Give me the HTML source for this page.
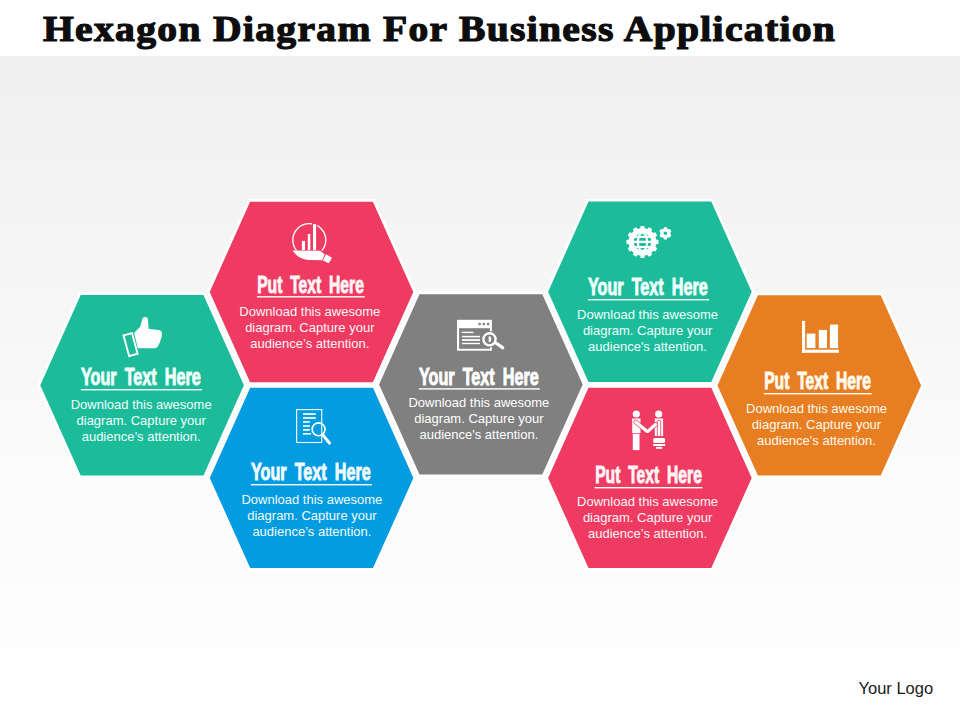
<!DOCTYPE html>
<html><head><meta charset="utf-8">
<style>
*{margin:0;padding:0;box-sizing:border-box}
html,body{width:960px;height:720px;overflow:hidden}
body{position:relative;background:#fff;font-family:"Liberation Sans",sans-serif}
#bg{position:absolute;left:0;top:56px;width:960px;height:592px;background:linear-gradient(180deg,#f0f0f0 0%,#f6f6f6 40%,#fbfbfb 70%,#fdfdfd 100%)}
#title{position:absolute;left:43.2px;top:11.15px;white-space:nowrap;font-family:"Liberation Serif",serif;font-weight:bold;font-size:36.0px;line-height:36.0px;color:#0d0d0d;letter-spacing:1.192px;-webkit-text-stroke:1.2px #0d0d0d;transform:scaleX(1.100);transform-origin:0 0}
svg{position:absolute;left:0;top:0}
.hd{position:absolute;width:300px;text-align:center;color:#fff;font-weight:bold;font-size:24.80px;line-height:24.80px;white-space:nowrap}
.hd span{display:inline-block;transform-origin:50% 0;word-spacing:5.5px;-webkit-text-stroke:1.0px #fff}
.bd{position:absolute;width:200px;text-align:center;color:#fff;font-size:13.0px;line-height:16.0px;white-space:nowrap}
#logo{position:absolute;left:858.5px;top:679.78px;font-size:16.5px;line-height:16.5px;color:#1a1a1a;white-space:nowrap}
</style></head><body>
<div id="bg"></div>
<div id="title">Hexagon Diagram For Business Application</div>
<svg width="960" height="720" viewBox="0 0 960 720">
<g fill="#fff" stroke="#fff" stroke-width="5.4" stroke-linejoin="miter">
<polygon points="40.30,385.30 80.70,295.10 203.50,295.10 243.90,385.30 203.50,475.50 80.70,475.50"/>
<polygon points="209.70,292.00 250.10,201.80 372.90,201.80 413.30,292.00 372.90,382.20 250.10,382.20"/>
<polygon points="209.80,477.90 250.20,387.70 373.00,387.70 413.40,477.90 373.00,568.10 250.20,568.10"/>
<polygon points="379.10,384.40 419.50,294.20 542.30,294.20 582.70,384.40 542.30,474.60 419.50,474.60"/>
<polygon points="548.10,291.80 588.50,201.60 711.30,201.60 751.70,291.80 711.30,382.00 588.50,382.00"/>
<polygon points="548.10,477.90 588.50,387.70 711.30,387.70 751.70,477.90 711.30,568.10 588.50,568.10"/>
<polygon points="717.50,385.40 757.90,295.20 880.70,295.20 921.10,385.40 880.70,475.60 757.90,475.60"/>
</g>
<polygon fill="#1cbc9b" points="40.30,385.30 80.70,295.10 203.50,295.10 243.90,385.30 203.50,475.50 80.70,475.50"/>
<polygon fill="#ef3b61" points="209.70,292.00 250.10,201.80 372.90,201.80 413.30,292.00 372.90,382.20 250.10,382.20"/>
<polygon fill="#039ce0" points="209.80,477.90 250.20,387.70 373.00,387.70 413.40,477.90 373.00,568.10 250.20,568.10"/>
<polygon fill="#808080" points="379.10,384.40 419.50,294.20 542.30,294.20 582.70,384.40 542.30,474.60 419.50,474.60"/>
<polygon fill="#1cbc9b" points="548.10,291.80 588.50,201.60 711.30,201.60 751.70,291.80 711.30,382.00 588.50,382.00"/>
<polygon fill="#ef3b61" points="548.10,477.90 588.50,387.70 711.30,387.70 751.70,477.90 711.30,568.10 588.50,568.10"/>
<polygon fill="#e87e22" points="717.50,385.40 757.90,295.20 880.70,295.20 921.10,385.40 880.70,475.60 757.90,475.60"/>
<g fill="#fff">
<rect x="80.90" y="389.00" width="121.00" height="1.40"/>
<rect x="256.90" y="296.10" width="107.80" height="1.40"/>
<rect x="250.85" y="484.00" width="121.00" height="1.40"/>
<rect x="418.90" y="388.20" width="121.00" height="1.40"/>
<rect x="588.10" y="299.00" width="121.00" height="1.40"/>
<rect x="594.60" y="487.00" width="107.80" height="1.40"/>
<rect x="763.80" y="393.00" width="107.80" height="1.40"/>
</g>
<g id="icons">
<g fill="none" stroke="#fff" stroke-width="1.9"><rect x="-4.4" y="-10.7" width="8.8" height="21.4" transform="translate(130.55,344.6) rotate(-15.2)"/></g>
<path fill="#fff" d="M134.1,333.1 L140.2,326.8 L141.8,321.0 Q142.3,317.0 145.0,317.0 Q147.9,317.0 148.0,319.8 L148.6,328.7 L159.6,330.3 Q162.0,330.8 161.9,333.4 L161.7,336.5 L159.8,342.6 L157.6,346.8 Q156.6,348.2 155.0,348.2 L137.8,348.2 Z"/>
<circle cx="309.3" cy="240.1" r="16.5" fill="none" stroke="#fff" stroke-width="1.3"/>
<rect x="312.0" y="222" width="5.1" height="6" fill="#ef3b61"/>
<g fill="#fff"><rect x="301.9" y="240.9" width="3.1" height="9.7"/><rect x="307.8" y="234.0" width="2.5" height="16.6"/><rect x="313.0" y="224.1" width="3.1" height="26.5"/></g>
<path fill="#ef3b61" d="M290.5,250.2 L321,250.2 L327,254 L324,262 L309,261.5 Q297,259.5 290.5,249.6 Z"/>
<path fill="#fff" d="M292.6,250.6 L319.9,250.8 L324.6,254.2 L322.3,260.2 L309.0,259.9 C301,259.6 296,255.5 292.6,250.6 Z"/>
<path fill="#fff" d="M325.9,254.3 L332.0,257.7 L328.8,263.2 L322.9,260.6 Z"/>
<rect x="296.65" y="409.6" width="25.1" height="32.9" fill="none" stroke="#fff" stroke-width="1.1"/>
<g fill="#fff"><rect x="303" y="413.2" width="12.8" height="1.7"/><rect x="303" y="417.1" width="12.8" height="1.7"/><rect x="303" y="421.1" width="6.9" height="1.6"/><rect x="303" y="425.2" width="6.9" height="1.6"/><rect x="303" y="429.0" width="6.9" height="1.7"/><rect x="303" y="433.0" width="8.0" height="1.6"/></g>
<circle cx="318.6" cy="429.3" r="6.45" fill="none" stroke="#fff" stroke-width="1.7"/>
<line x1="323.4" y1="435.6" x2="329.6" y2="443.2" stroke="#fff" stroke-width="3" stroke-linecap="round"/>
<rect x="457.0" y="319.8" width="34.9" height="30.9" fill="#fff"/>
<rect x="459.1" y="328.2" width="30.9" height="20.6" fill="#808080"/>
<g fill="#808080"><circle cx="479.7" cy="324.1" r="1.35"/><circle cx="483.8" cy="324.1" r="1.35"/><circle cx="488.1" cy="324.1" r="1.35"/></g>
<g fill="#fff"><rect x="461.6" y="331.7" width="11.9" height="1.4"/><rect x="461.9" y="335.8" width="18.1" height="1.6"/><rect x="461.9" y="339.1" width="18.1" height="1.8"/><rect x="461.9" y="342.8" width="18.1" height="1.4"/></g>
<circle cx="489.5" cy="339.3" r="8.3" fill="#808080"/>
<line x1="496.6" y1="343.5" x2="502.6" y2="347.7" stroke="#fff" stroke-width="3.3" stroke-linecap="round"/>
<circle cx="489.5" cy="339.3" r="6.1" fill="none" stroke="#fff" stroke-width="2.4"/>
<path fill="#fff" d="M488.7,336.3 L490.3,336.3 Q492.2,339.1 490.3,342.0 L488.7,342.0 Z"/>
<path fill="#fff" d="M640.21,228.19 L640.68,225.90 L644.32,225.90 L644.79,228.19 L647.37,228.88 L648.92,227.14 L652.08,228.96 L651.34,231.17 L653.23,233.06 L655.44,232.32 L657.26,235.48 L655.52,237.03 L656.21,239.61 L658.50,240.08 L658.50,243.72 L656.21,244.19 L655.52,246.77 L657.26,248.32 L655.44,251.48 L653.23,250.74 L651.34,252.63 L652.08,254.84 L648.92,256.66 L647.37,254.92 L644.79,255.61 L644.32,257.90 L640.68,257.90 L640.21,255.61 L637.63,254.92 L636.08,256.66 L632.92,254.84 L633.66,252.63 L631.77,250.74 L629.56,251.48 L627.74,248.32 L629.48,246.77 L628.79,244.19 L626.50,243.72 L626.50,240.08 L628.79,239.61 L629.48,237.03 L627.74,235.48 L629.56,232.32 L631.77,233.06 L633.66,231.17 L632.92,228.96 L636.08,227.14 L637.63,228.88 Z"/>
<circle cx="642.5" cy="241.9" r="8.8" fill="#1cbc9b"/>
<g stroke="#fff" fill="none" stroke-width="2.1"><ellipse cx="642.5" cy="241.9" rx="4.6" ry="9.2"/><line x1="633" y1="236.8" x2="652" y2="236.8"/><line x1="633" y1="241.9" x2="652" y2="241.9" stroke-width="2.4"/><line x1="633" y1="247.0" x2="652" y2="247.0"/></g>
<path fill="#fff" d="M663.66,228.51 L663.98,227.16 L666.82,227.16 L667.14,228.51 L668.68,229.39 L670.01,229.00 L671.42,231.46 L670.42,232.41 L670.42,234.19 L671.42,235.14 L670.01,237.60 L668.68,237.21 L667.14,238.09 L666.82,239.44 L663.98,239.44 L663.66,238.09 L662.12,237.21 L660.79,237.60 L659.38,235.14 L660.38,234.19 L660.38,232.41 L659.38,231.46 L660.79,229.00 L662.12,229.39 Z"/>
<circle cx="665.4" cy="233.3" r="1.8" fill="#1cbc9b"/>
<g fill="#fff"><circle cx="636.3" cy="414.0" r="3.6"/><circle cx="658.7" cy="414.0" r="3.6"/><rect x="632.2" y="418.5" width="8.3" height="14.7"/><rect x="632.8" y="433.9" width="6.7" height="16.2"/><rect x="654.8" y="418.5" width="8.3" height="17.5"/><rect x="653.2" y="438.0" width="11.9" height="5.1" rx="1.5"/><rect x="653.2" y="444.0" width="11.9" height="2.0"/><rect x="656.1" y="446.9" width="6.1" height="1.9"/></g>
<g fill="none" stroke="#ef3b61" stroke-width="0.8"><path d="M657.3,436 L657.3,421 Q659,419.5 660.7,421 L660.7,436"/></g>
<line x1="635.7" y1="422.0" x2="647.2" y2="431.4" stroke="#ef3b61" stroke-width="4.6" stroke-linecap="round"/>
<line x1="655.5" y1="424.5" x2="647.8" y2="431.4" stroke="#ef3b61" stroke-width="4.6" stroke-linecap="round"/>
<line x1="635.7" y1="422.0" x2="647.2" y2="431.4" stroke="#fff" stroke-width="3.2" stroke-linecap="round"/>
<line x1="655.5" y1="424.5" x2="647.8" y2="431.4" stroke="#fff" stroke-width="3.2" stroke-linecap="round"/>
<g fill="#fff"><rect x="802.0" y="320.9" width="3.1" height="31.9"/><rect x="802.0" y="349.7" width="36.9" height="3.1"/><rect x="806.7" y="333.6" width="8.7" height="14.5"/><rect x="818.8" y="329.9" width="8.2" height="18.2"/><rect x="829.9" y="324.6" width="8.2" height="23.5"/></g>
</g>
</svg>
<div class="hd" style="left:-8.85px;top:365.41px;color:#f0fffb"><span style="transform:scaleX(0.6526);-webkit-text-stroke-color:#f0fffb">Your Text Here</span></div>
<div class="bd" style="left:41.20px;top:396.60px;color:#f0fffb">Download this awesome<br>diagram. Capture your<br>audience’s attention.</div>
<div class="hd" style="left:160.55px;top:272.51px;color:#fff4f6"><span style="transform:scaleX(0.6313);-webkit-text-stroke-color:#fff4f6">Put Text Here</span></div>
<div class="bd" style="left:209.80px;top:303.50px;color:#fff4f6">Download this awesome<br>diagram. Capture your<br>audience’s attention.</div>
<div class="hd" style="left:161.10px;top:460.41px;color:#f0fbff"><span style="transform:scaleX(0.6526);-webkit-text-stroke-color:#f0fbff">Your Text Here</span></div>
<div class="bd" style="left:211.90px;top:491.50px;color:#f0fbff">Download this awesome<br>diagram. Capture your<br>audience’s attention.</div>
<div class="hd" style="left:329.15px;top:364.61px;color:#ffffff"><span style="transform:scaleX(0.6526);-webkit-text-stroke-color:#ffffff">Your Text Here</span></div>
<div class="bd" style="left:378.90px;top:394.60px;color:#ffffff">Download this awesome<br>diagram. Capture your<br>audience's attention.</div>
<div class="hd" style="left:498.35px;top:275.41px;color:#f0fffb"><span style="transform:scaleX(0.6526);-webkit-text-stroke-color:#f0fffb">Your Text Here</span></div>
<div class="bd" style="left:547.55px;top:306.60px;color:#f0fffb">Download this awesome<br>diagram. Capture your<br>audience's attention.</div>
<div class="hd" style="left:498.25px;top:463.41px;color:#fff4f6"><span style="transform:scaleX(0.6313);-webkit-text-stroke-color:#fff4f6">Put Text Here</span></div>
<div class="bd" style="left:547.55px;top:493.70px;color:#fff4f6">Download this awesome<br>diagram. Capture your<br>audience’s attention.</div>
<div class="hd" style="left:667.45px;top:369.41px;color:#fffaee"><span style="transform:scaleX(0.6313);-webkit-text-stroke-color:#fffaee">Put Text Here</span></div>
<div class="bd" style="left:716.50px;top:400.60px;color:#fffaee">Download this awesome<br>diagram. Capture your<br>audience's attention.</div>
<div id="logo">Your Logo</div>
</body></html>
